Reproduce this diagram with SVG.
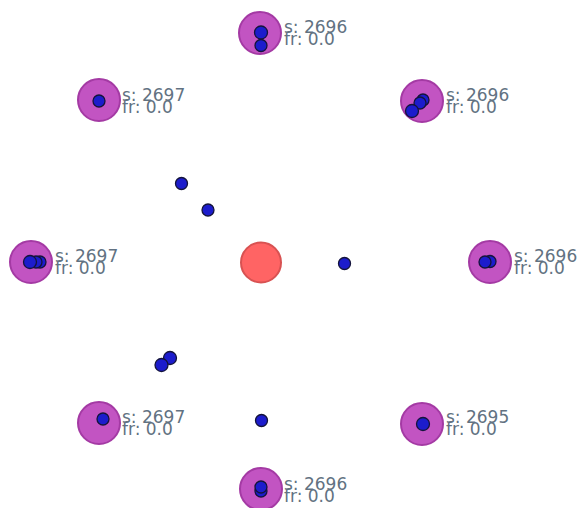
<svg xmlns="http://www.w3.org/2000/svg" width="579" height="508" viewBox="0 0 579 508">
<style>
.n{fill:#c254c2;stroke:#a43aa4;stroke-width:2}
.c{fill:#ff6464;stroke:#d85252;stroke-width:2}
.d{fill:#1c1ccc;stroke:#14143c;stroke-width:1.3}
.t{font-family:"DejaVu Sans",sans-serif;font-size:17px;fill:#627282}
</style>
<rect width="579" height="508" fill="#ffffff"/>
<g id="connectors"></g>
<g id="center"><circle class="c" cx="261" cy="262.5" r="20"/></g>
<g id="n-top"><circle class="n" cx="260" cy="33" r="21"/><circle class="d" cx="261" cy="45.5" r="6"/><circle class="d" cx="261" cy="32.5" r="6.5"/><text class="t" x="284" y="33">s: 2696</text><text class="t" x="284" y="45">fr: 0.0</text></g>
<g id="n-tl"><circle class="n" cx="99" cy="100" r="21"/><circle class="d" cx="99" cy="101" r="6"/><text class="t" x="122" y="101">s: 2697</text><text class="t" x="122" y="113">fr: 0.0</text></g>
<g id="n-tr"><circle class="n" cx="422" cy="101" r="21"/><circle class="d" cx="423" cy="100" r="6"/><circle class="d" cx="420" cy="103" r="6"/><circle class="d" cx="412" cy="111" r="6.5"/><text class="t" x="446" y="101">s: 2696</text><text class="t" x="446" y="113">fr: 0.0</text></g>
<g id="n-l"><circle class="n" cx="31" cy="262" r="21"/><circle class="d" cx="40" cy="262" r="6"/><circle class="d" cx="36" cy="262" r="6"/><circle class="d" cx="30" cy="262" r="6.5"/><text class="t" x="55" y="262">s: 2697</text><text class="t" x="55" y="274">fr: 0.0</text></g>
<g id="n-r"><circle class="n" cx="490" cy="262" r="21"/><circle class="d" cx="490" cy="261.5" r="6"/><circle class="d" cx="485" cy="262" r="6"/><text class="t" x="514" y="262">s: 2696</text><text class="t" x="514" y="274">fr: 0.0</text></g>
<g id="n-bl"><circle class="n" cx="99" cy="423" r="21"/><circle class="d" cx="103" cy="419" r="6"/><text class="t" x="122" y="423">s: 2697</text><text class="t" x="122" y="435">fr: 0.0</text></g>
<g id="n-br"><circle class="n" cx="422" cy="424" r="21"/><circle class="d" cx="423" cy="424" r="6.5"/><text class="t" x="446" y="423">s: 2695</text><text class="t" x="446" y="435">fr: 0.0</text></g>
<g id="n-bottom"><circle class="n" cx="261" cy="489" r="21"/><circle class="d" cx="261" cy="491" r="6"/><circle class="d" cx="261" cy="487" r="6"/><text class="t" x="284" y="490">s: 2696</text><text class="t" x="284" y="502">fr: 0.0</text></g>
<g id="free">
<circle class="d" cx="181.5" cy="183.5" r="6"/>
<circle class="d" cx="208" cy="210" r="6"/>
<circle class="d" cx="344.5" cy="263.5" r="6"/>
<circle class="d" cx="170" cy="358" r="6.5"/>
<circle class="d" cx="161.5" cy="365" r="6.5"/>
<circle class="d" cx="261.5" cy="420.5" r="6"/>
</g>
</svg>
